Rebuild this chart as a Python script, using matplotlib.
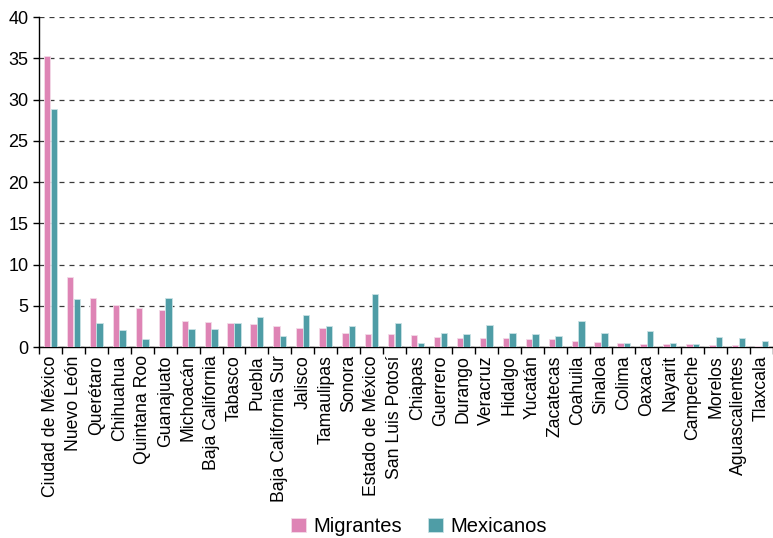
import matplotlib
matplotlib.use('Agg')
import matplotlib.pyplot as plt
import numpy as np

plt.rcParams['font.family'] = ['Liberation Sans', 'DejaVu Sans']

estados = ['Ciudad de México', 'Nuevo León', 'Querétaro', 'Chihuahua', 'Quintana Roo',
           'Guanajuato', 'Michoacán', 'Baja California', 'Tabasco', 'Puebla',
           'Baja California Sur', 'Jalisco', 'Tamaulipas', 'Sonora', 'Estado de México',
           'San Luis Potosí', 'Chiapas', 'Guerrero', 'Durango', 'Veracruz', 'Hidalgo',
           'Yucatán', 'Zacatecas', 'Coahuila', 'Sinaloa', 'Colima', 'Oaxaca', 'Nayarit',
           'Campeche', 'Morelos', 'Aguascalientes', 'Tlaxcala']
migrantes = [35.3, 8.5, 5.9, 5.1, 4.7, 4.5, 3.1, 3.0, 2.9, 2.75, 2.5, 2.3, 2.3, 1.75,
             1.55, 1.55, 1.4, 1.25, 1.15, 1.05, 1.05, 1.0, 1.0, 0.75, 0.55, 0.5, 0.4,
             0.4, 0.37, 0.28, 0.28, 0.12]
mexicanos = [28.9, 5.8, 2.9, 2.05, 0.95, 6.0, 2.2, 2.2, 2.9, 3.6, 1.3, 3.9, 2.6, 2.6,
             6.4, 2.9, 0.45, 1.75, 1.55, 2.7, 1.65, 1.63, 1.35, 3.2, 1.65, 0.45, 1.95,
             0.53, 0.37, 1.22, 1.14, 0.73]

rosa = '#de84b5'
verde = '#4f9da6'

fig = plt.figure(figsize=(7.73, 5.38), dpi=100)
ax = fig.add_axes([0.0505, 0.355, 0.9495, 0.613])

x = np.arange(len(estados))
w = 0.28
ax.bar(x - 0.145, migrantes, w, color=rosa, edgecolor='#f3dbe8', linewidth=0.6, label='Migrantes', zorder=3)
ax.bar(x + 0.145, mexicanos, w, color=verde, edgecolor='#c9e2e5', linewidth=0.6, label='Mexicanos', zorder=3)

ax.set_xlim(-0.5, len(estados) - 0.5)
ax.set_ylim(0, 40)
ax.set_yticks(range(0, 41, 5))
ax.yaxis.grid(True, linestyle=(0, (4, 4)), color='#3a3a3a', linewidth=0.9, zorder=0)
ax.set_axisbelow(True)

ax.set_xticks(x)
ax.set_xticklabels(estados, rotation=90, fontsize=12.7)
ax.set_xticks(np.arange(-0.5, len(estados), 1), minor=True)
ax.tick_params(axis='x', which='major', length=0, pad=6)
ax.tick_params(axis='x', which='minor', length=5, width=1, direction='out', color='black')
ax.tick_params(axis='y', labelsize=13, length=4, width=1, color='black')

for s in ['top', 'right']:
    ax.spines[s].set_visible(False)
ax.spines['left'].set_linewidth(1)
ax.spines['bottom'].set_linewidth(1)

fig.legend(loc='lower center', bbox_to_anchor=(0.542, -0.03), ncol=2, frameon=False,
           fontsize=14.5, handlelength=0.75, handleheight=0.75, handletextpad=0.35,
           columnspacing=1.3)

fig.savefig('out.png', dpi=100)
